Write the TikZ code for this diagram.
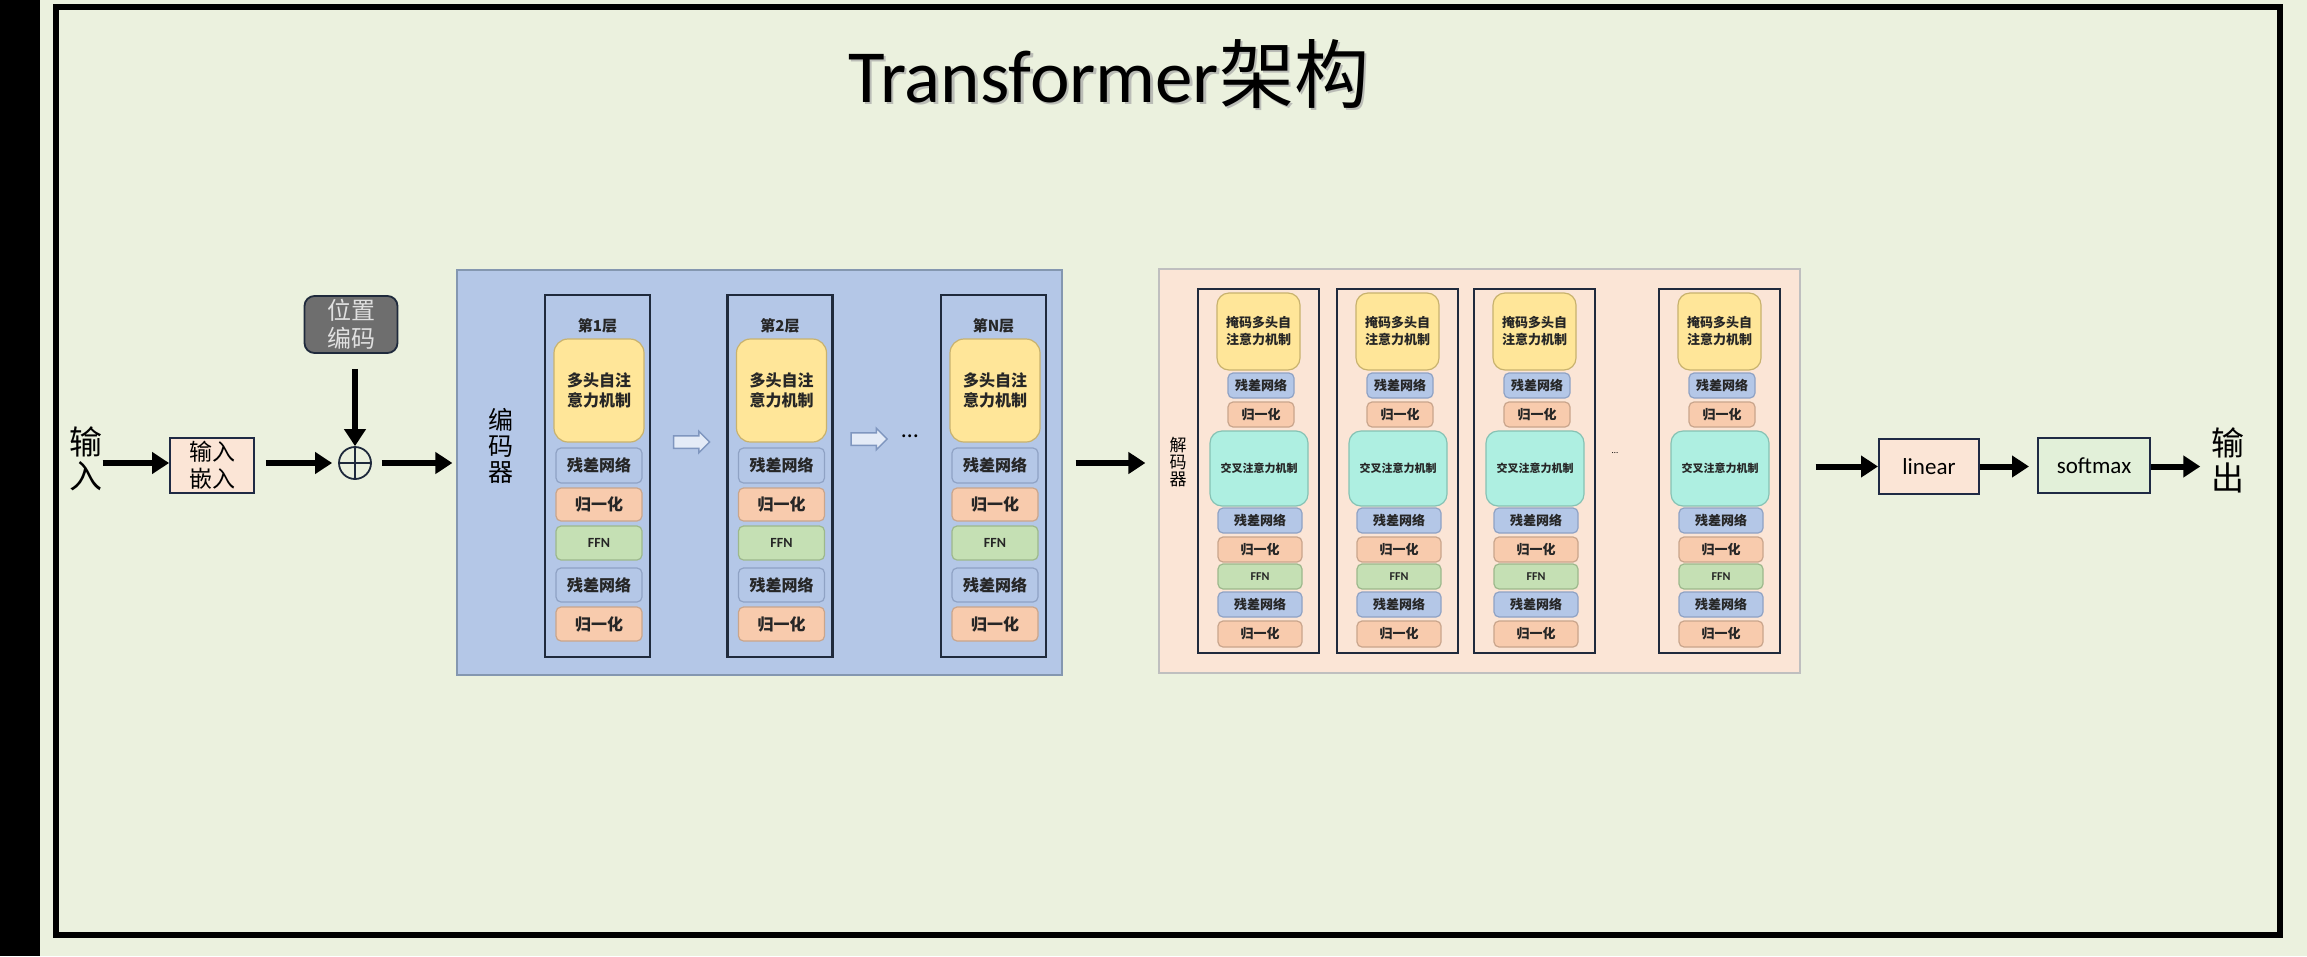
\documentclass[tikz,border=0pt]{standalone}
\usepackage{fontspec}
\setmainfont{Carlito}
\newfontfamily\cjk{Noto Sans CJK SC}
\usetikzlibrary{arrows.meta,shapes.arrows}
\definecolor{bg}{HTML}{EBF1DE}
\definecolor{encC}{HTML}{B4C7E7}
\definecolor{encD}{HTML}{8497B0}
\definecolor{decC}{HTML}{FBE5D6}
\definecolor{decD}{HTML}{BFBFBF}
\definecolor{resC}{HTML}{B4C7E7}
\definecolor{resD}{HTML}{8FA2C4}
\definecolor{nrmC}{HTML}{F8CBAD}
\definecolor{nrmD}{HTML}{C9A58C}
\definecolor{ffnC}{HTML}{C5E0B4}
\definecolor{ffnD}{HTML}{9DB88C}
\definecolor{attC}{HTML}{FFE699}
\definecolor{attD}{HTML}{C8B26E}
\definecolor{crsC}{HTML}{AEEFE1}
\definecolor{crsD}{HTML}{86C2B4}
\definecolor{frmD}{HTML}{1F2A3C}
\definecolor{txt}{HTML}{262626}
\definecolor{peC}{HTML}{6E6E6E}
\definecolor{hollowC}{HTML}{E4EBF7}
\definecolor{hollowD}{HTML}{7F96BF}
\definecolor{linC}{HTML}{FBE5D6}
\definecolor{smC}{HTML}{E2F0D9}
\definecolor{boxD}{HTML}{1F2A44}
\tikzset{
  arr/.style={line width=6pt, -{Triangle[length=17pt,width=21pt]}},
  ibox/.style={draw, rounded corners=5pt, inner sep=0pt, line width=1.2pt, align=center, text=txt},
  res/.style={ibox, fill=resC, draw=resD},
  nrm/.style={ibox, fill=nrmC, draw=nrmD},
  ffnbox/.style={ibox, fill=ffnC, draw=ffnD},
  att/.style={ibox, fill=attC, draw=attD, rounded corners=14pt},
  crs/.style={ibox, fill=crsC, draw=crsD, rounded corners=12pt},
  lframe/.style={draw=frmD, line width=2.5pt, inner sep=0pt},
  encbig/.style={font=\cjk\bfseries\fontsize{16}{20}\selectfont},
  decbig/.style={font=\cjk\bfseries\fontsize{13}{17}\selectfont},
  encsm/.style={font=\cjk\bfseries\fontsize{16}{18}\selectfont},
  decsm/.style={font=\cjk\bfseries\fontsize{13}{15}\selectfont},
  hollow/.style={single arrow, draw=hollowD, fill=hollowC, line width=1.5pt, minimum height=36pt, minimum width=20pt, single arrow head extend=4.5pt, inner sep=0pt, text width=0pt, text height=5.5pt, text depth=5.5pt},
  plain/.style={draw=boxD, line width=2pt, inner sep=0pt, align=center}
}
\begin{document}
\begin{tikzpicture}[x=1pt,y=-1pt]
\useasboundingbox (0,0) rectangle (2307,956);
\fill[bg] (0,0) rectangle (2307,956);
\fill[black] (0,0) rectangle (40,956);
\draw[line width=6pt] (56,7) rectangle (2280,935);

% title
\node[anchor=base west, inner sep=0, text=black!35, opacity=0.7] at (850.5,104.5) {\fontsize{75}{80}\selectfont Transformer{\cjk 架构}};
\node[anchor=base west, inner sep=0] (title) at (848,102) {\fontsize{75}{80}\selectfont Transformer{\cjk 架构}};

% input side
\node[font=\cjk\fontsize{33}{34}\selectfont, align=center, inner sep=0] (inp) at (86,459) {输\\入};
\node[plain, fill=linC, line width=1.8pt, minimum width=84pt, minimum height=55pt, font=\cjk\fontsize{23}{27}\selectfont] (emb) at (212,465.5) {输入\\嵌入};
\node[circle, draw=frmD, line width=1.8pt, minimum size=32pt, inner sep=0] (plus) at (355,463) {};
\draw[frmD, line width=1.8pt] (plus.north) -- (plus.south) (plus.west) -- (plus.east);
\node[draw=frmD, line width=1.8pt, rounded corners=10pt, fill=peC, minimum width=93pt, minimum height=57pt, inner sep=0, align=center, text=black!12, font=\cjk\fontsize{24}{28}\selectfont] (pe) at (351,324.5) {位置\\编码};

\draw[arr] (inp.east |- plus) -- (emb.west |- plus);
\draw[arr, shorten <=11pt, shorten >=6pt] (emb.east |- plus) -- (plus.west);
\draw[arr, shorten <=15pt] (pe.south -| plus) -- (plus.north);

% encoder
\node[draw=encD, fill=encC, line width=1.2pt, minimum width=605pt, minimum height=405pt, inner sep=0] (enc) at (759.5,472.5) {};
\draw[arr, shorten <=10pt, shorten >=4pt] (plus.east) -- (enc.west |- plus);
\node[font=\cjk\fontsize{25}{26}\selectfont, align=center, inner sep=0] (enclab) at (501,446) {编\\码\\器};

\foreach \cx/\lab/\id in {597.5/第1层/a, 780/第2层/b, 993.5/第N层/c} {
  \node[lframe, minimum width=105pt, minimum height=362pt] (e\id) at (\cx,476) {};
  \node[font=\cjk\bfseries\fontsize{15}{16}\selectfont, text=txt, inner sep=0] (e\id-t) at (\cx,326) {\lab};
  \node[att, encbig, minimum width=90pt, minimum height=103pt] (e\id-att) at (\cx+1.5,390.5) {多头自注\\意力机制};
  \node[res, encsm, minimum width=86pt, minimum height=35pt] (e\id-r1) at (\cx+1.5,465.5) {残差网络};
  \node[nrm, encsm, minimum width=86pt, minimum height=33pt] (e\id-n1) at (\cx+1.5,504.5) {归一化};
  \node[ffnbox, font=\bfseries\fontsize{14}{16}\selectfont, minimum width=86pt, minimum height=34pt] (e\id-f) at (\cx+1.5,543) {FFN};
  \node[res, encsm, minimum width=86pt, minimum height=34pt] (e\id-r2) at (\cx+1.5,585) {残差网络};
  \node[nrm, encsm, minimum width=86pt, minimum height=34pt] (e\id-n2) at (\cx+1.5,624) {归一化};
}
\node[hollow] (h1) at (688.5,442) {};
\node[hollow] (h2) at (866,439) {};
\node[font=\fontsize{24}{26}\selectfont, inner sep=0] (edots) at (910,436) {…};

% decoder
\node[draw=decD, fill=decC, line width=1.2pt, minimum width=641pt, minimum height=404pt, inner sep=0] (dec) at (1479.5,471) {};
\draw[arr, shorten <=13pt, shorten >=13pt] (enc.east |- plus) -- (dec.west |- plus);
\node[font=\cjk\fontsize{17}{17}\selectfont, align=center, inner sep=0] (declab) at (1178,462) {解\\码\\器};

\foreach \cx/\id in {1258.5/a, 1397.5/b, 1534.5/c, 1719.5/d} {
  \node[lframe, minimum width=121pt, minimum height=364pt] (d\id) at (\cx,471) {};
  \node[att, decbig, rounded corners=12pt, minimum width=83pt, minimum height=77pt] (d\id-att) at (\cx,331.5) {掩码多头自\\注意力机制};
  \node[res, decsm, minimum width=66pt, minimum height=25pt] (d\id-r0) at (\cx+2.5,385.5) {残差网络};
  \node[nrm, decsm, minimum width=66pt, minimum height=25pt] (d\id-n0) at (\cx+2.5,414.5) {归一化};
  \node[crs, font=\cjk\bfseries\fontsize{11}{13}\selectfont, minimum width=98pt, minimum height=75pt] (d\id-x) at (\cx+0.5,468.5) {交叉注意力机制};
  \node[res, decsm, minimum width=84pt, minimum height=25pt] (d\id-r1) at (\cx+1.5,520.5) {残差网络};
  \node[nrm, decsm, minimum width=84pt, minimum height=25pt] (d\id-n1) at (\cx+1.5,549.5) {归一化};
  \node[ffnbox, font=\bfseries\fontsize{12}{14}\selectfont, minimum width=84pt, minimum height=25pt] (d\id-f) at (\cx+1.5,576.5) {FFN};
  \node[res, decsm, minimum width=84pt, minimum height=25pt] (d\id-r2) at (\cx+1.5,604.5) {残差网络};
  \node[nrm, decsm, minimum width=84pt, minimum height=26pt] (d\id-n2) at (\cx+1.5,634) {归一化};
}
\node[font=\fontsize{9}{10}\selectfont, inner sep=0] (ddots) at (1615,453) {…};

% output side
\node[plain, fill=linC, minimum width=100pt, minimum height=55pt, font=\fontsize{23}{26}\selectfont] (lin) at (1929,466.5) {linear};
\node[plain, fill=smC, minimum width=112pt, minimum height=55pt, font=\fontsize{23}{26}\selectfont] (sm) at (2094,465.5) {softmax};
\node[font=\cjk\fontsize{33}{35}\selectfont, align=center, inner sep=0] (outp) at (2228,460) {输\\出};
\draw[arr, shorten <=15pt] (dec.east |- lin) -- (lin.west);
\draw[arr, shorten >=8pt] (lin.east) -- (sm.west |- lin);
\draw[arr, shorten >=11pt] (sm.east |- lin) -- (outp.west |- lin);
\end{tikzpicture}
\end{document}
